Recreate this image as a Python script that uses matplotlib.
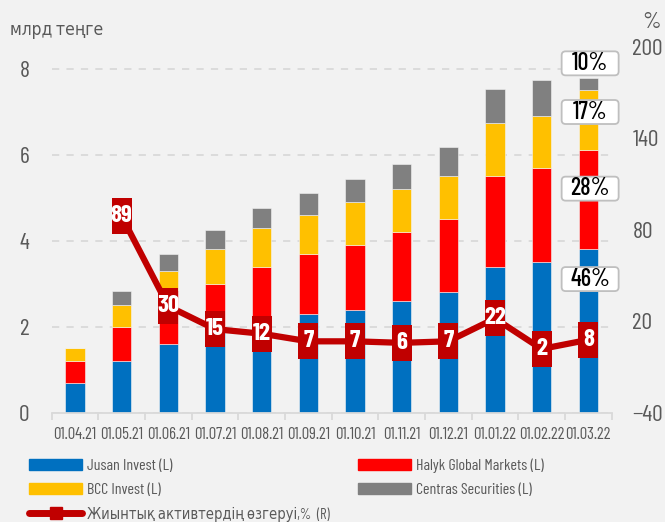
import matplotlib
matplotlib.use("Agg")
import matplotlib.pyplot as plt
import numpy as np
from matplotlib.patches import Patch, FancyBboxPatch
from matplotlib.lines import Line2D
from matplotlib.path import Path
from matplotlib.transforms import ScaledTranslation

plt.rcParams["font.family"] = ["Barlow Condensed", "DejaVu Sans"]
plt.rcParams["font.stretch"] = "condensed"

# data
dates = ["01.04.21", "01.05.21", "01.06.21", "01.07.21", "01.08.21", "01.09.21",
         "01.10.21", "01.11.21", "01.12.21", "01.01.22", "01.02.22", "01.03.22"]
jusan = [0.7, 1.2, 1.6, 1.9, 2.1, 2.3, 2.4, 2.6, 2.8, 3.4, 3.5, 3.8]
halyk = [0.5, 0.8, 1.25, 1.1, 1.3, 1.4, 1.5, 1.6, 1.7, 2.1, 2.2, 2.3]
bcc = [0.3, 0.5, 0.45, 0.8, 0.9, 0.9, 1.0, 1.0, 1.0, 1.24, 1.2, 1.4]
centras = [0.0, 0.34, 0.4, 0.45, 0.47, 0.5, 0.54, 0.58, 0.67, 0.79, 0.83, 0.27]
growth = [np.nan, 89, 30, 15, 12, 7, 7, 6, 7, 22, 2, 8]
share_labels = ["46%", "28%", "17%", "10%"]
share_y = [3.11, 5.21, 6.99, 8.12]

# colours
BLUE, RED, YEL, GRY, DRED = "#0070C0", "#FF0000", "#FFC000", "#808080", "#C00000"
BG, GRID, TXT = "#F2F2F2", "#D9D9D9", "#595959"

fig = plt.figure(figsize=(6.65, 5.22), dpi=100, facecolor=BG)
ax = fig.add_axes([0.0777, 0.2088, 0.842, 0.7012])
ax.set_facecolor(BG)

x = np.arange(len(dates))
w = 0.41
bottom = np.zeros(len(dates))
for vals, col in [(jusan, BLUE), (halyk, RED), (bcc, YEL), (centras, GRY)]:
    ax.bar(x, vals, w, bottom=bottom, color=col, edgecolor="#f5f5f5", lw=0.4, zorder=2)
    bottom += np.array(vals)

ax.set_xlim(-0.5, len(dates) - 0.5)
ax.set_ylim(0, 8.5)
ax.set_yticks([0, 2, 4, 6, 8])
ax.yaxis.grid(True, color=GRID, lw=1.3, linestyle=(0, (4, 4)), zorder=0)
ax.set_axisbelow(True)
for s in ["left", "right", "top"]:
    ax.spines[s].set_visible(False)
ax.spines["bottom"].set_color(GRID)
ax.spines["bottom"].set_linewidth(1.3)
ax.set_xticks(x)
ax.set_xticklabels(dates)
ax.set_xticks(np.arange(len(dates) + 1) - 0.5, minor=True)
ax.tick_params(axis="x", which="major", length=0, pad=10, labelsize=12, labelcolor=TXT)
ax.tick_params(axis="x", which="minor", length=5, color=GRID, width=1.3)
ax.tick_params(axis="y", length=0, pad=16, labelsize=17, labelcolor=TXT)

# right axis: growth line
ax2 = ax.twinx()
ax2.set_ylim(-40, 200)
ax2.set_yticks([-40, 20, 80, 140, 200])
for s in ax2.spines.values():
    s.set_visible(False)
ax2.tick_params(axis="y", length=0, pad=15, labelsize=17, labelcolor=TXT)

rect = Path([(-0.27, -0.5), (0.27, -0.5), (0.27, 0.5), (-0.27, 0.5), (-0.27, -0.5)],
            [Path.MOVETO, Path.LINETO, Path.LINETO, Path.LINETO, Path.CLOSEPOLY])
ax2.plot(x, growth, color=DRED, lw=4.5, marker=rect, markersize=26.6,
         markeredgewidth=0, zorder=3)
for xi, g in zip(x, growth):
    if not np.isnan(g):
        ax2.text(xi, g, f"{g:d}", color="white", fontsize=18, fontweight="bold",
                 ha="center", va="center", zorder=4)

# share labels on last bar
for lab, yy in zip(share_labels, share_y):
    tr = fig.dpi_scale_trans + ScaledTranslation(x[-1] + 0.04, yy, ax.transData)
    ax.add_patch(FancyBboxPatch((-0.285, -0.12), 0.57, 0.24, transform=tr,
                                boxstyle="round,pad=0,rounding_size=0.04",
                                fc="white", ec="#BFBFBF", lw=1.3, zorder=5, clip_on=False))
    ax.text(x[-1] + 0.04, yy, lab, fontsize=17.5, fontweight=500, color="black",
            ha="center", va="center", zorder=6)

fig.text(10 / 665, 1 - 31 / 522, "млрд теңге", fontsize=12.5, color=TXT, va="center", ha="left")
fig.text(651 / 665, 1 - 22 / 522, "%", fontsize=17, color=TXT, va="center", ha="center")

handles = [Patch(color=BLUE), Patch(color=YEL),
           Line2D([], [], color=DRED, lw=5, marker="s", markersize=9, solid_capstyle="round"),
           Patch(color=RED), Patch(color=GRY)]
labels = ["Jusan Invest (L)", "BCC Invest (L)", "Жиынтық активтердің өзгеруі,%  (R)",
          "Halyk Global Markets (L)", "Centras Securities (L)"]
leg = fig.legend(handles, labels, ncol=2, loc="upper left", bbox_to_anchor=(23 / 665, 1 - 452 / 522),
                 frameon=False, fontsize=11.5, handlelength=3.3, handleheight=0.7,
                 labelspacing=0.62, columnspacing=1.8, handletextpad=0.3, borderaxespad=0)
for t in leg.get_texts():
    t.set_color(TXT)
leg.get_texts()[2].set_fontsize(10.5)

fig.savefig("out.png", dpi=100, facecolor=BG)
